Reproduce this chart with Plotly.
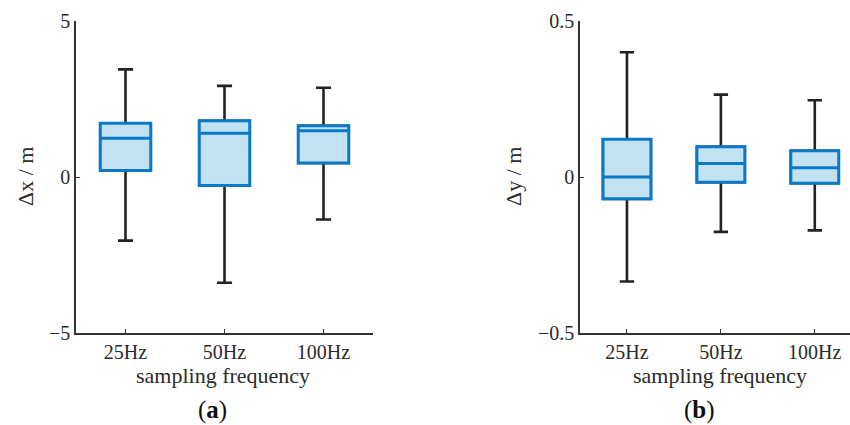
import plotly.graph_objects as go

# Sampling frequencies compared in both panels
categories = ["25Hz", "50Hz", "100Hz"]

# Box statistics for the x-position error (m)
dx_lower = [-2.04, -3.39, -1.36]
dx_q1 = [0.21, -0.27, 0.45]
dx_median = [1.24, 1.40, 1.48]
dx_q3 = [1.72, 1.80, 1.64]
dx_upper = [3.45, 2.92, 2.86]

# Box statistics for the y-position error (m)
dy_lower = [-0.335, -0.176, -0.171]
dy_q1 = [-0.070, -0.017, -0.020]
dy_median = [0.000, 0.043, 0.030]
dy_q3 = [0.121, 0.097, 0.084]
dy_upper = [0.400, 0.264, 0.246]

W, H = 850, 425
BLUE = "#0b79c6"
FILL = "#c2e2f2"
DARK = "#222222"
FONT = "Liberation Serif"
BOX_W = 0.51

fig = go.Figure()


def add_panel(xa, ya, lower, q1, med, q3, upper):
    # dark whiskers and caps
    fig.add_trace(go.Box(
        x=categories, q1=q1, median=med, q3=q3,
        lowerfence=lower, upperfence=upper,
        xaxis=xa, yaxis=ya, boxpoints=False, width=BOX_W,
        line=dict(color=DARK, width=2.6), fillcolor=FILL,
        whiskerwidth=0.3, showlegend=False, hoverinfo="skip",
    ))
    # blue box body drawn over the whisker trace
    fig.add_trace(go.Box(
        x=categories, q1=q1, median=med, q3=q3,
        lowerfence=q1, upperfence=q3,
        xaxis=xa, yaxis=ya, boxpoints=False, width=BOX_W,
        line=dict(color=BLUE, width=3), fillcolor=FILL,
        whiskerwidth=0, showlegend=False, hoverinfo="skip",
    ))


add_panel("x", "y", dx_lower, dx_q1, dx_median, dx_q3, dx_upper)
add_panel("x2", "y2", dy_lower, dy_q1, dy_median, dy_q3, dy_upper)

ydom = [(H - 333) / H, (H - 21) / H]
axis_common = dict(
    showline=True, linecolor="#333333", linewidth=1.5,
    ticks="inside", ticklen=4, tickcolor="#333333", tickwidth=1.2,
    showgrid=False, zeroline=False, mirror=False, automargin=False,
    tickfont=dict(family=FONT, size=20, color="#2a2a2a"),
)

fig.update_layout(
    width=W, height=H,
    margin=dict(l=0, r=0, t=0, b=0),
    paper_bgcolor="white", plot_bgcolor="white",
    boxmode="overlay",
    xaxis=dict(domain=[76 / W, 373 / W], range=[-0.5, 2.5],
               type="category", anchor="y", **axis_common),
    yaxis=dict(domain=ydom, range=[-5, 5], tickvals=[-5, 0, 5],
               ticktext=["\u22125", "0", "5"], anchor="x", **axis_common),
    xaxis2=dict(domain=[580 / W, 1.0], range=[-0.5, 2.375],
                type="category", anchor="y2", **axis_common),
    yaxis2=dict(domain=ydom, range=[-0.5, 0.5], tickvals=[-0.5, 0, 0.5],
                ticktext=["\u22120.5", "0", "0.5"], anchor="x2", **axis_common),
)

title_font = dict(family=FONT, size=22, color="#2a2a2a")
label_font = dict(family=FONT, size=25, color="#111111")
annotations = [
    dict(text="\u0394x / m", x=25 / W, y=(H - 177) / H, textangle=-90, font=title_font),
    dict(text="\u0394y / m", x=513 / W, y=(H - 177) / H, textangle=-90, font=title_font),
    dict(text="sampling frequency", x=223 / W, y=(H - 375) / H, font=title_font),
    dict(text="sampling frequency", x=720 / W, y=(H - 375) / H, font=title_font),
    dict(text="(<b>a</b>)", x=212 / W, y=(H - 410) / H, font=label_font),
    dict(text="(<b>b</b>)", x=699 / W, y=(H - 410) / H, font=label_font),
]
for a in annotations:
    fig.add_annotation(xref="paper", yref="paper", showarrow=False,
                       xanchor="center", yanchor="middle", **a)

fig.write_html("out.html")
